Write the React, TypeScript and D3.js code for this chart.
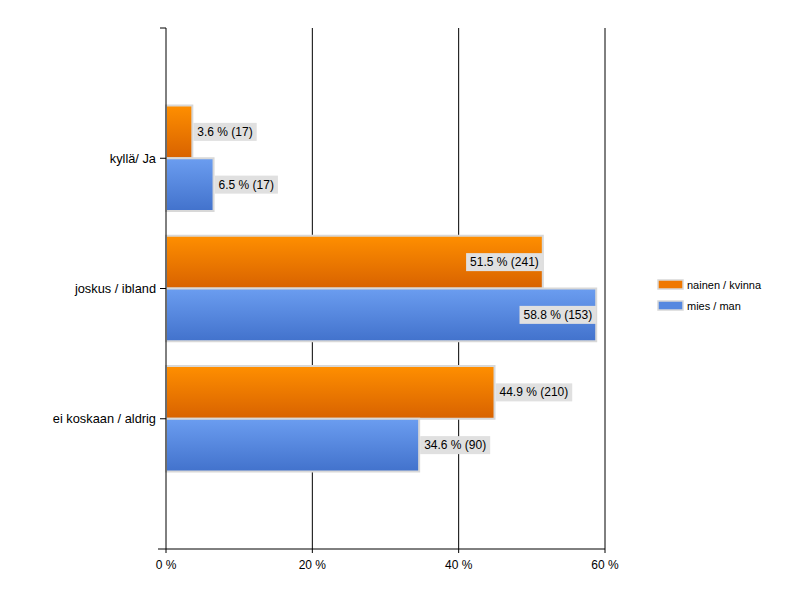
import React from "react";
import * as d3 from "d3";

const categories = ["kyllä/ Ja", "joskus / ibland", "ei koskaan / aldrig"];
const seriesNames = ["nainen / kvinna", "mies / man"];
const womenPct = [3.6, 51.5, 44.9];
const womenN = [17, 241, 210];
const menPct = [6.5, 58.8, 34.6];
const menN = [17, 153, 90];
const xTicks = [0, 20, 40, 60];

const W = 800;
const H = 600;
const left = 166;
const right = 605;
const top = 28;
const bottom = 549;
const font = "'Liberation Sans', Arial, sans-serif";

let ctx: CanvasRenderingContext2D | null = null;
function measure(t: string, size: number) {
  if (!ctx) ctx = document.createElement("canvas").getContext("2d");
  if (!ctx) return t.length * 6;
  ctx.font = `${size}px 'Liberation Sans', Arial, sans-serif`;
  return ctx.measureText(t).width;
}

export default function App() {
  const x = d3.scaleLinear().domain([0, 60]).range([left, right]);
  const y = d3.scalePoint<string>().domain(categories).range([top, bottom]).padding(1);
  const step = y.step();
  const groupH = step * 0.81;
  const inner = d3.scaleBand<string>().domain(seriesNames).range([-groupH / 2, groupH / 2]).padding(0);
  const series = [
    { name: seriesNames[0], pct: womenPct, n: womenN, grad: "gOrange", swatch: "#f07800" },
    { name: seriesNames[1], pct: menPct, n: menN, grad: "gBlue", swatch: "#5588e0" },
  ];

  return (
    <svg width={W} height={H} style={{ position: "absolute", left: 0, top: 0 }} fontFamily={font}>
      <defs>
        <linearGradient id="gOrange" x1="0" y1="0" x2="0" y2="1">
          <stop offset="0" stopColor="#ff8f00" />
          <stop offset="1" stopColor="#d86200" />
        </linearGradient>
        <linearGradient id="gBlue" x1="0" y1="0" x2="0" y2="1">
          <stop offset="0" stopColor="#6b9df0" />
          <stop offset="1" stopColor="#4272cc" />
        </linearGradient>
      </defs>
      <rect width={W} height={H} fill="#fff" />
      {xTicks.filter((t) => t > 0).map((t) => (
        <line key={t} x1={x(t)} x2={x(t)} y1={top} y2={bottom} stroke="#000" strokeWidth={1} />
      ))}
      {series.map((s) =>
        categories.map((c, i) => {
          const y0 = (y(c) as number) + (inner(s.name) as number);
          const h = inner.bandwidth();
          return (
            <rect key={s.name + c} x={x(0)} y={y0} width={x(s.pct[i]) - x(0)} height={h}
              fill={`url(#${s.grad})`} stroke="#d8d8d8" strokeWidth={2} />
          );
        })
      )}
      {series.map((s) =>
        categories.map((c, i) => {
          const cy = (y(c) as number) + (inner(s.name) as number) + inner.bandwidth() / 2;
          const t = `${s.pct[i]} % (${s.n[i]})`;
          const w = measure(t, 12) + 8;
          const xe = x(s.pct[i]);
          const outside = xe + w < right - 2;
          const bx = outside ? xe + 1 : xe - w;
          return (
            <g key={"l" + s.name + c}>
              <rect x={bx} y={cy - 9} width={w} height={18} fill="#e0e0e0" />
              <text x={bx + 4} y={cy + 4} fontSize={12} fill="#000">{t}</text>
            </g>
          );
        })
      )}
      <line x1={left} x2={left} y1={top} y2={bottom} stroke="#000" />
      <line x1={left - 6} x2={left} y1={top} y2={top} stroke="#000" />
      <line x1={left - 8} x2={right} y1={bottom} y2={bottom} stroke="#000" />
      {categories.map((c) => (
        <g key={"t" + c}>
          <line x1={left - 6} x2={left} y1={y(c)} y2={y(c)} stroke="#000" />
          <text x={left - 10} y={(y(c) as number) + 4.5} textAnchor="end" fontSize={12.8} fill="#000">{c}</text>
        </g>
      ))}
      {xTicks.map((t) => (
        <g key={"x" + t}>
          <line x1={x(t)} x2={x(t)} y1={bottom} y2={bottom + 4} stroke="#000" />
          <text x={x(t)} y={bottom + 20} textAnchor="middle" fontSize={12} fill="#000">{`${t} %`}</text>
        </g>
      ))}
      {series.map((s, i) => (
        <g key={"lg" + s.name} transform={`translate(658, ${280 + i * 21})`}>
          <rect x={0} y={0} width={25} height={9} fill={s.swatch} stroke="#d8d8d8" strokeWidth={1.5} />
          <text x={29} y={8.5} fontSize={11} fill="#000">{s.name}</text>
        </g>
      ))}
    </svg>
  );
}
